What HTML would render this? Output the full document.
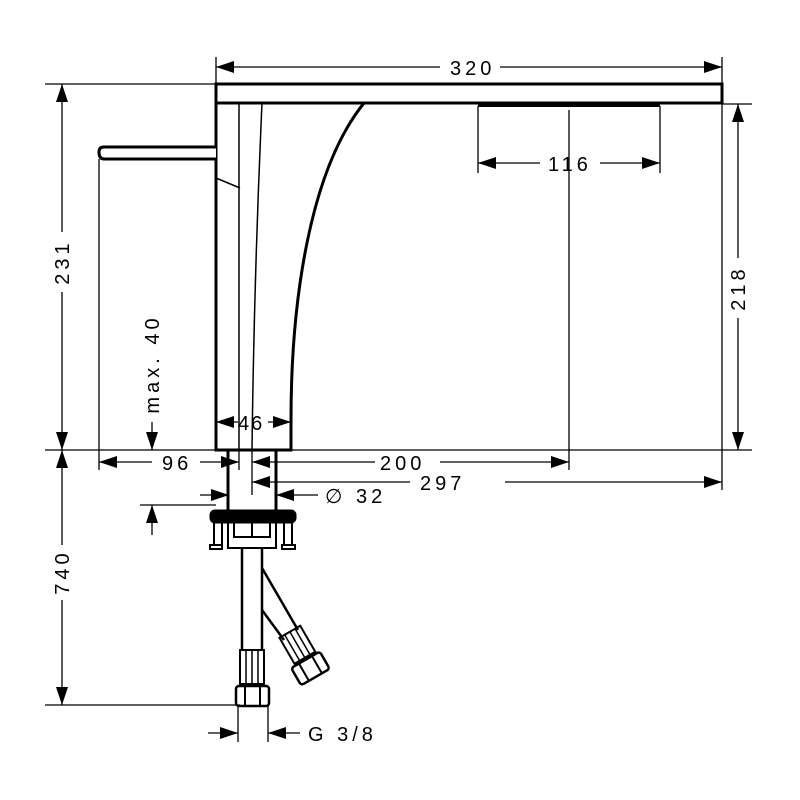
<!DOCTYPE html>
<html><head><meta charset="utf-8"><style>body{margin:0;background:#fff}svg{display:block}text{font-family:"Liberation Sans",sans-serif;font-size:20px;letter-spacing:4px;fill:#000}</style></head><body>
<svg width="800" height="800" viewBox="0 0 800 800" xmlns="http://www.w3.org/2000/svg">
<defs>
<marker id="a" viewBox="0 0 18 12" refX="18" refY="6" markerWidth="18" markerHeight="12" markerUnits="userSpaceOnUse" orient="auto-start-reverse"><path d="M0,0L18,6L0,12Z"/></marker>
</defs>
<g fill="none" stroke="#000">
<rect x="216" y="84" width="506" height="19" stroke-width="3"/>
<path d="M216,84V450H291V420" stroke-width="3"/>
<path d="M291,420C291,300 310,170 364,103" stroke-width="3"/>
<path d="M478,105H660" stroke-width="4"/>
<path d="M239,103V450M262,103Q254,280 252,450M216,178L240,188" stroke-width="1.5"/>
<path d="M216,147H104Q99,147 99,152Q99,159 104,159H216" stroke-width="3" fill="#fff"/>
<path d="M228,450V512M276,450V512" stroke-width="3"/>
<rect x="210" y="510" width="86" height="13" rx="5" fill="#000" stroke-width="1"/>
<path d="M214,523V545M222,523V545M284,523V545M292,523V545M228,523V548H276V523M234,523V537H270V523M252,523V537" stroke-width="2"/>
<path d="M210,545h12v4h-12zM282,545h13v4h-13z" stroke-width="2"/>
<path d="M242,548V650M262,548V650M262,568L298,630M262,610L284,640" stroke-width="2.5"/>
<rect x="240" y="650" width="24" height="34" stroke-width="2"/>
<path d="M246,650V684M252,650V684M258,650V684" stroke-width="1.5"/>
<rect x="236" y="686" width="33" height="20" rx="3" stroke-width="2.5"/>
<path d="M245,686V706M260,686V706" stroke-width="2"/>
<g transform="rotate(-30 305 660)">
<rect x="294" y="628" width="24" height="30" stroke-width="2"/>
<path d="M300,628V658M306,628V658M312,628V658" stroke-width="1.5"/>
<rect x="289" y="660" width="33" height="20" rx="3" stroke-width="2.5"/>
<path d="M298,660V680M313,660V680" stroke-width="2"/>
</g>
<g stroke-width="1.3">
<path d="M216,57V84M722,57V84"/>
<path d="M478,106V173M660,106V173M569,110V470"/>
<path d="M722,104H752M291,450H752M722,104V490"/>
<path d="M45,84H216M45,450H216M45,705H240M99,159V470"/>
<path d="M140,505H216M239,450V470M252,450V495"/>
<path d="M238,706V742M268,706V742"/>
</g>
<g stroke-width="1.3">
<path d="M216,67H440M500,67H722" marker-start="url(#a)" marker-end="url(#a)"/>
<path d="M478,163H540M600,163H660" marker-start="url(#a)" marker-end="url(#a)"/>
<path d="M738,104V258M738,318V450" marker-start="url(#a)" marker-end="url(#a)"/>
<path d="M62,84V232M62,292V450" marker-start="url(#a)" marker-end="url(#a)"/>
<path d="M62,450V545M62,600V705" marker-start="url(#a)" marker-end="url(#a)"/>
<path d="M216,422H238M268,422H291" marker-start="url(#a)" marker-end="url(#a)"/>
<path d="M99,462H152" marker-start="url(#a)"/>
<path d="M200,462H239" marker-end="url(#a)"/>
<path d="M252,462H375" marker-start="url(#a)"/>
<path d="M440,462H569" marker-end="url(#a)"/>
<path d="M252,482H410" marker-start="url(#a)"/>
<path d="M505,482H722" marker-end="url(#a)"/>
<path d="M152,422V450" marker-end="url(#a)"/>
<path d="M152,535V505" marker-end="url(#a)"/>
<path d="M200,495H229" marker-end="url(#a)"/>
<path d="M318,495H276" marker-end="url(#a)"/>
<path d="M208,733H238" marker-end="url(#a)"/>
<path d="M300,733H268" marker-end="url(#a)"/>
</g>
</g>
<text x="450" y="75">320</text>
<text x="548" y="171">116</text>
<text x="162" y="470">96</text>
<text x="380" y="470">200</text>
<text x="420" y="490">297</text>
<text x="238" y="430" style="letter-spacing:2px">46</text>
<text x="325" y="503">∅ 32</text>
<text x="308" y="741">G 3/8</text>
<text transform="translate(738,288) rotate(-90)" text-anchor="middle" dy="7">218</text>
<text transform="translate(62,262) rotate(-90)" text-anchor="middle" dy="7">231</text>
<text transform="translate(62,572) rotate(-90)" text-anchor="middle" dy="7">740</text>
<text transform="translate(152,364) rotate(-90)" text-anchor="middle" dy="7">max. 40</text>
</svg>
</body></html>
